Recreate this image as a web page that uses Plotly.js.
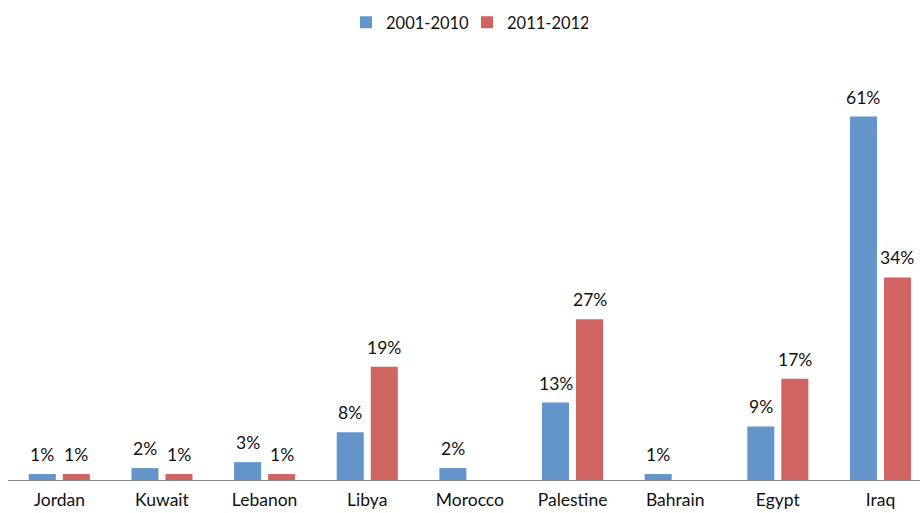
<!DOCTYPE html>
<html>
<head>
<meta charset="utf-8">
<script src="https://cdn.plot.ly/plotly-3.0.1.min.js"></script>
<style>html,body{margin:0;padding:0;background:#fff;}#chart{width:920px;height:513px;}</style>
</head>
<body>
<div id="chart"></div>
<script>
var categories = ["Jordan","Kuwait","Lebanon","Libya","Morocco","Palestine","Bahrain","Egypt","Iraq"];
var series1Name = "2001-2010";
var series2Name = "2011-2012";
var series1 = [1,2,3,8,2,13,1,9,61];
var series2 = [1,1,1,19,null,27,null,17,34];

var font = "Lato, 'Open Sans', sans-serif";
var traces = [
  {type:"bar", name:series1Name, x:categories, y:series1, marker:{color:"#6395CB"}, hoverinfo:"skip"},
  {type:"bar", name:series2Name, x:categories, y:series2, marker:{color:"#CF6460"}, hoverinfo:"skip"}
];
var annotations = [];
function addLabels(vals, shift){
  vals.forEach(function(v, i){
    if (v == null) return;
    annotations.push({x:categories[i], y:v, xref:"x", yref:"y", text:v+"%", showarrow:false,
      xshift:shift, yshift:7, yanchor:"bottom", xanchor:"center",
      font:{family:font, size:17.5, color:"#111"}});
  });
}
addLabels(series1, -17);
addLabels(series2, 17);

var layout = {
  width:920, height:513,
  margin:{l:8, r:0, t:62.5, b:32.5},
  paper_bgcolor:"#fff", plot_bgcolor:"#fff",
  barmode:"group", bargap:0.337, bargroupgap:0.206,
  font:{family:font, size:16, color:"#111"},
  showlegend:true,
  legend:{orientation:"h", x:0.3706, xanchor:"left", y:0.99, yref:"container", yanchor:"top",
          font:{family:font,size:16.5,color:"#111"}, itemwidth:30, entrywidth:76, entrywidthmode:"pixels",
          traceorder:"normal"},
  annotations: annotations,
  xaxis:{type:"category", range:[-0.5,8.385], showline:true, linecolor:"#888", linewidth:1.3,
         ticks:"", ticklabelstandoff:4, showgrid:false, tickfont:{family:font,size:17.5,color:"#111"}, fixedrange:true},
  yaxis:{range:[0,70], visible:false, showgrid:false, zeroline:false, fixedrange:true}
};
Plotly.newPlot("chart", traces, layout, {displayModeBar:false, staticPlot:true});
</script>
</body>
</html>
